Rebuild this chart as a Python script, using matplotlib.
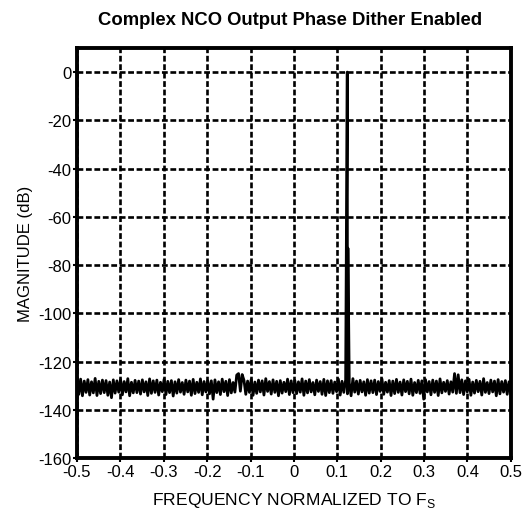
import numpy as np
import matplotlib.pyplot as plt

plt.rcParams['font.family'] = ['Liberation Sans', 'DejaVu Sans']
plt.rcParams['axes.unicode_minus'] = False

# noise floor (dB), evenly spaced from -0.5 to 0.5
noise_db = [
    -127.8, -133.6, -127.3, -134.2, -128.1, -132.8, -127.5, -133.9, -128.4, -133.0, -127.0, -134.1,
    -128.2, -133.3, -127.7, -132.9, -127.9, -134.0, -128.5, -135.0, -127.6, -133.1, -128.0, -132.7,
    -127.4, -133.8, -128.3, -132.6, -127.1, -134.2, -128.6, -133.0, -127.8, -132.9, -128.1, -133.5,
    -127.6, -132.6, -128.4, -134.1, -127.2, -133.2, -128.0, -132.8, -127.7, -133.9, -128.6, -132.5,
    -127.3, -133.7, -128.2, -132.9, -127.9, -134.3, -128.4, -133.1, -127.5, -132.7, -128.7, -133.6,
    -127.7, -132.6, -128.1, -134.0, -127.4, -133.3, -128.6, -132.8, -127.2, -133.8, -128.3, -132.6,
    -127.9, -133.4, -128.0, -135.6, -127.6, -132.9, -128.4, -133.7, -127.3, -132.5, -128.2, -134.1,
    -127.5, -133.0, -128.7, -132.7, -125.6, -125.0, -132.3, -125.4, -127.8, -133.6, -128.1, -132.8,
    -127.4, -134.0, -128.5, -133.2, -127.7, -132.6, -128.0, -133.9, -127.1, -132.4, -128.3, -133.5,
    -127.6, -132.8, -128.2, -134.2, -127.9, -133.1, -128.6, -132.5, -127.3, -133.7, -128.0, -132.9,
    -127.8, -133.3, -128.4, -132.7, -127.2, -134.0, -128.1, -133.0, -127.5, -132.6, -128.7, -133.8,
    -127.7, -132.4, -128.3, -133.6, -127.4, -134.1, -128.0, -132.9, -127.9, -133.2, -128.5, -132.5,
    -127.3, -133.9, -128.2, -132.8, -127.6, -133.4, -128.8, -134.2, -127.1, -132.7, -128.1, -133.5,
    -127.8, -132.6, -128.4, -134.0, -127.5, -133.1, -128.0, -132.9, -127.7, -133.7, -128.3, -132.4,
    -127.2, -133.6, -128.6, -132.7, -127.9, -134.1, -128.1, -133.3, -127.4, -132.8, -128.5, -133.9,
    -127.6, -132.5, -128.2, -133.4, -127.3, -134.0, -128.7, -132.9, -127.8, -133.2, -128.0, -135.6,
    -127.5, -132.6, -128.3, -133.8, -127.7, -132.8, -128.1, -134.1, -127.2, -133.0, -128.6, -132.4,
    -127.9, -133.5, -128.4, -132.7, -125.0, -133.2, -125.5, -132.9, -127.6, -133.7, -128.0, -132.6,
    -127.4, -134.0, -128.5, -133.1, -127.8, -132.5, -128.2, -133.9, -127.1, -132.8, -128.7, -133.3,
    -127.7, -132.6, -128.1, -134.2, -127.5, -133.4, -128.3, -132.7, -127.9, -133.6, -128.4, -132.9,
]

# NCO tone and its close-in spur
tone_freq = [0.123, 0.1245]
tone_db = [0.0, -73.0]

xticks = [-0.5, -0.4, -0.3, -0.2, -0.1, 0, 0.1, 0.2, 0.3, 0.4, 0.5]
xlabels = ['-0.5', '-0.4', '-0.3', '-0.2', '-0.1', '0', '0.1', '0.2', '0.3', '0.4', '0.5']
yticks = [0, -20, -40, -60, -80, -100, -120, -140, -160]

freq = np.linspace(-0.5, 0.5, len(noise_db))
f_all = np.concatenate([freq, tone_freq])
m_all = np.concatenate([noise_db, tone_db])
order = np.argsort(f_all)
f_all = f_all[order]
m_all = m_all[order]

fig = plt.figure(figsize=(5.31, 5.10), dpi=100)
ax = fig.add_axes([0.145, 0.1, 0.817, 0.804])

ax.plot(f_all, m_all, color='black', lw=2.0)

ax.set_xlim(-0.5, 0.5)
ax.set_ylim(-160, 10)
ax.set_xticks(xticks)
ax.set_xticklabels(xlabels)
ax.set_yticks(yticks)
ax.grid(True, color='black', linestyle=(0, (2.2, 1.0)), lw=1.9)
ax.tick_params(direction='out', length=3, width=1.5, labelsize=12, pad=1)
for s in ax.spines.values():
    s.set_linewidth(2.8)

ax.set_title('Complex NCO Output Phase Dither Enabled', fontsize=13.3,
             fontweight='bold', pad=17, x=0.49)
ax.set_ylabel('MAGNITUDE (dB)', fontsize=12, labelpad=4)
ax.set_xlabel('FREQUENCY NORMALIZED TO F$_\\mathregular{S}$', fontsize=12.6, labelpad=8)

fig.savefig('out.png', dpi=100)
